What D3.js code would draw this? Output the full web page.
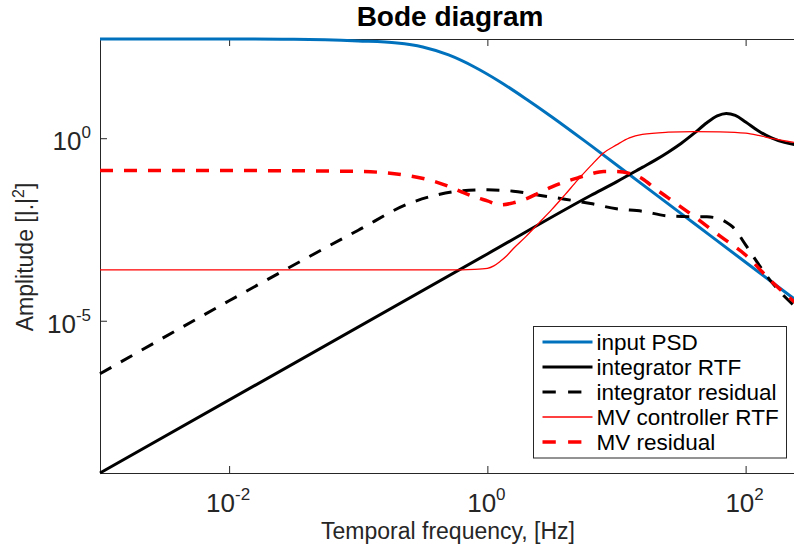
<!DOCTYPE html>
<html>
<head>
<meta charset="utf-8">
<script src="https://cdn.jsdelivr.net/npm/d3@7"></script>
<style>
  body { margin: 0; background: #fff; }
  svg { display: block; font-family: "Liberation Sans", Arial, Helvetica, sans-serif; }
</style>
</head>
<body>
<div id="chart"></div>
<script>
// values (Hz, |.|^2)
const psdFreq = [0.001, 0.01, 0.0316, 0.1, 0.2, 0.316, 0.501, 0.794, 1.259, 1.995, 3.162, 6.31, 15.85, 39.81, 100, 251.2]
const psdAmp = [522, 522, 513, 461, 406, 316, 191, 89.5, 34.8, 11.9, 3.83, 0.635, 0.0545, 0.00467, 4.0e-4, 3.44e-5]

const intRtfFreq = [0.001, 1, 6.31, 10, 15.85, 19.95, 25.12, 31.62, 39.81, 50.12, 60.26, 70.79, 83.18, 100, 125.9, 158.5, 199.5, 251.2]
const intRtfAmp = [6.75e-10, 6.75e-4, 2.69e-2, 6.37e-2, 0.159, 0.251, 0.414, 0.716, 1.35, 2.66, 4.08, 4.77, 4.21, 2.79, 1.58, 1.02, 0.767, 0.656]

const intResFreq = [0.001, 0.01, 0.1, 0.251, 0.398, 0.631, 1, 1.585, 2.512, 3.981, 6.31, 10, 15.85, 25.12, 39.81, 50.12, 63.1, 70.79, 79.43, 100, 125.9, 158.5, 199.5, 251.2]
const intResAmp = [3.52e-7, 3.52e-5, 3.02e-3, 1.66e-2, 2.75e-2, 3.63e-2, 3.85e-2, 3.55e-2, 2.75e-2, 2.14e-2, 1.62e-2, 1.17e-2, 1.0e-2, 7.41e-3, 7.08e-3, 7.02e-3, 6.17e-3, 5.01e-3, 3.72e-3, 1.20e-3, 3.55e-4, 1.16e-4, 4.68e-5, 2.19e-5]

const mvRtfFreq = [0.001, 0.5, 0.794, 1, 1.122, 1.259, 1.413, 1.585, 1.995, 2.512, 3.162, 3.981, 5.012, 6.31, 7.943, 10, 12.59, 15.85, 25.12, 39.81, 63.1, 100, 125.9, 158.5, 251.2]
const mvRtfAmp = [2.46e-4, 2.46e-4, 2.55e-4, 2.73e-4, 3.19e-4, 4.24e-4, 6.0e-4, 9.4e-4, 2.05e-3, 4.80e-3, 1.12e-2, 2.80e-2, 7.21e-2, 0.175, 0.396, 0.656, 1.02, 1.27, 1.46, 1.52, 1.49, 1.37, 1.19, 0.989, 0.743]

const mvResFreq = [0.001, 0.01, 0.1, 0.251, 0.398, 0.501, 0.631, 0.794, 1, 1.259, 1.585, 1.995, 2.512, 3.162, 3.981, 5.012, 6.31, 7.943, 10, 12.59, 15.85, 19.95, 25.12, 39.81, 63.1, 100, 158.5, 251.2]
const mvResAmp = [0.130, 0.130, 0.123, 9.3e-2, 6.37e-2, 4.80e-2, 3.39e-2, 2.47e-2, 1.92e-2, 1.49e-2, 1.69e-2, 2.18e-2, 3.18e-2, 4.65e-2, 6.37e-2, 8.18e-2, 0.105, 0.123, 0.123, 0.109, 7.76e-2, 4.17e-2, 2.32e-2, 7.24e-3, 2.11e-3, 6.31e-4, 1.20e-4, 2.82e-5]

const seriesNames = ['input PSD', 'integrator RTF', 'integrator residual', 'MV controller RTF', 'MV residual']
const xTickValues = [1e-2, 1e0, 1e2]
const xTickExps = ['-2', '0', '2']
const yTickValues = [1e-5, 1e0]
const yTickExps = ['-5', '0']

const width = 794
const height = 548
const margin = { left: 100, top: 39, right: -3, bottom: 75 }
const axisColor = '#262626'

let series = [
  { name: seriesNames[0], freq: psdFreq, amp: psdAmp, color: '#0072BD', width: 3, dash: null },
  { name: seriesNames[1], freq: intRtfFreq, amp: intRtfAmp, color: '#000000', width: 3, dash: null },
  { name: seriesNames[2], freq: intResFreq, amp: intResAmp, color: '#000000', width: 3, dash: '13,11' },
  { name: seriesNames[3], freq: mvRtfFreq, amp: mvRtfAmp, color: '#FF0000', width: 1.3, dash: null },
  { name: seriesNames[4], freq: mvResFreq, amp: mvResAmp, color: '#FF0000', width: 3.5, dash: '13,11' }
]

let allAmp = [].concat(psdAmp, intRtfAmp, intResAmp, mvRtfAmp, mvResAmp)

/* Scales */
let xScale = d3.scaleLog()
  .domain([0.001, 250])
  .range([margin.left, width - margin.right])

let yScale = d3.scaleLog()
  .domain(d3.extent(allAmp))
  .range([height - margin.bottom, margin.top])

let svg = d3.select('#chart')
  .append('svg')
  .attr('width', width)
  .attr('height', height)

/* Axes with inward ticks */
let plotBottom = height - margin.bottom
let plotRight = width - margin.right

svg.append('g')
  .attr('transform', `translate(0, ${plotBottom})`)
  .call(d3.axisBottom(xScale).tickValues(xTickValues).tickSizeInner(-7).tickSizeOuter(0).tickFormat(''))

svg.append('g')
  .attr('transform', `translate(0, ${margin.top})`)
  .call(d3.axisTop(xScale).tickValues(xTickValues).tickSizeInner(-7).tickSizeOuter(0).tickFormat(''))

svg.append('g')
  .attr('transform', `translate(${margin.left}, 0)`)
  .call(d3.axisLeft(yScale).tickValues(yTickValues).tickSizeInner(-7).tickSizeOuter(0).tickFormat(''))

svg.append('line')
  .attr('x1', plotRight).attr('x2', plotRight)
  .attr('y1', margin.top).attr('y2', plotBottom)
  .attr('stroke', axisColor)

svg.selectAll('.domain, .tick line')
  .attr('stroke', axisColor)
  .attr('stroke-width', 1)

/* Tick labels 10^n */
let xLabels = svg.append('g')
  .attr('fill', axisColor)
  .attr('font-size', 26)
  .attr('text-anchor', 'middle')
  .selectAll('text')
  .data(xTickValues)
  .enter()
  .append('text')
  .attr('x', d => xScale(d) - 1)
  .attr('y', plotBottom + 38.5)
xLabels.append('tspan').text('10')
xLabels.append('tspan')
  .attr('font-size', 17)
  .attr('dy', -12)
  .text((d, i) => xTickExps[i])

let yLabels = svg.append('g')
  .attr('fill', axisColor)
  .attr('font-size', 26)
  .attr('text-anchor', 'end')
  .selectAll('text')
  .data(yTickValues)
  .enter()
  .append('text')
  .attr('x', margin.left - 9)
  .attr('y', d => yScale(d) + 12)
yLabels.append('tspan').text('10')
yLabels.append('tspan')
  .attr('font-size', 17)
  .attr('dy', -12)
  .text((d, i) => yTickExps[i])

/* Lines */
let line = d3.line()
  .x(d => xScale(d[0]))
  .y(d => yScale(d[1]))
  .curve(d3.curveMonotoneX)

svg.append('g')
  .selectAll('path')
  .data(series)
  .enter()
  .append('path')
  .attr('d', s => line(s.freq.map((f, i) => [f, s.amp[i]])))
  .attr('fill', 'none')
  .attr('stroke', s => s.color)
  .attr('stroke-width', s => s.width)
  .attr('stroke-dasharray', s => s.dash)
  .attr('stroke-linejoin', 'round')

/* Title and axis labels */
svg.append('text')
  .attr('x', 450)
  .attr('y', 26)
  .attr('text-anchor', 'middle')
  .attr('font-size', 28)
  .attr('font-weight', 'bold')
  .attr('fill', '#000')
  .text('Bode diagram')

svg.append('text')
  .attr('x', 448)
  .attr('y', 539)
  .attr('text-anchor', 'middle')
  .attr('font-size', 23)
  .attr('fill', axisColor)
  .text('Temporal frequency, [Hz]')

let yTitle = svg.append('text')
  .attr('transform', `translate(33, 257) rotate(-90)`)
  .attr('text-anchor', 'middle')
  .attr('font-size', 23)
  .attr('fill', axisColor)
yTitle.append('tspan').text('Amplitude [|.|')
yTitle.append('tspan').attr('font-size', 16).attr('dy', -9).text('2')
yTitle.append('tspan').attr('dy', 9).text(']')

/* Legend */
let legend = svg.append('g').attr('transform', 'translate(533.5, 326.5)')
legend.append('rect')
  .attr('width', 253)
  .attr('height', 131.5)
  .attr('fill', '#fff')
  .attr('stroke', axisColor)
  .attr('stroke-width', 1)

let rows = legend.selectAll('.row')
  .data(series)
  .enter()
  .append('g')
  .attr('class', 'row')
  .attr('transform', (d, i) => `translate(0, ${15.5 + i * 25})`)

rows.append('line')
  .attr('x1', 9)
  .attr('x2', s => (s.dash ? 48.5 : 59))
  .attr('stroke', s => s.color)
  .attr('stroke-width', s => s.width)
  .attr('stroke-dasharray', s => (s.dash ? '13.3,12.3' : null))

rows.append('text')
  .attr('x', 63)
  .attr('y', 7.5)
  .attr('font-size', 22.5)
  .attr('fill', '#000')
  .text(s => s.name)
</script>
</body>
</html>
